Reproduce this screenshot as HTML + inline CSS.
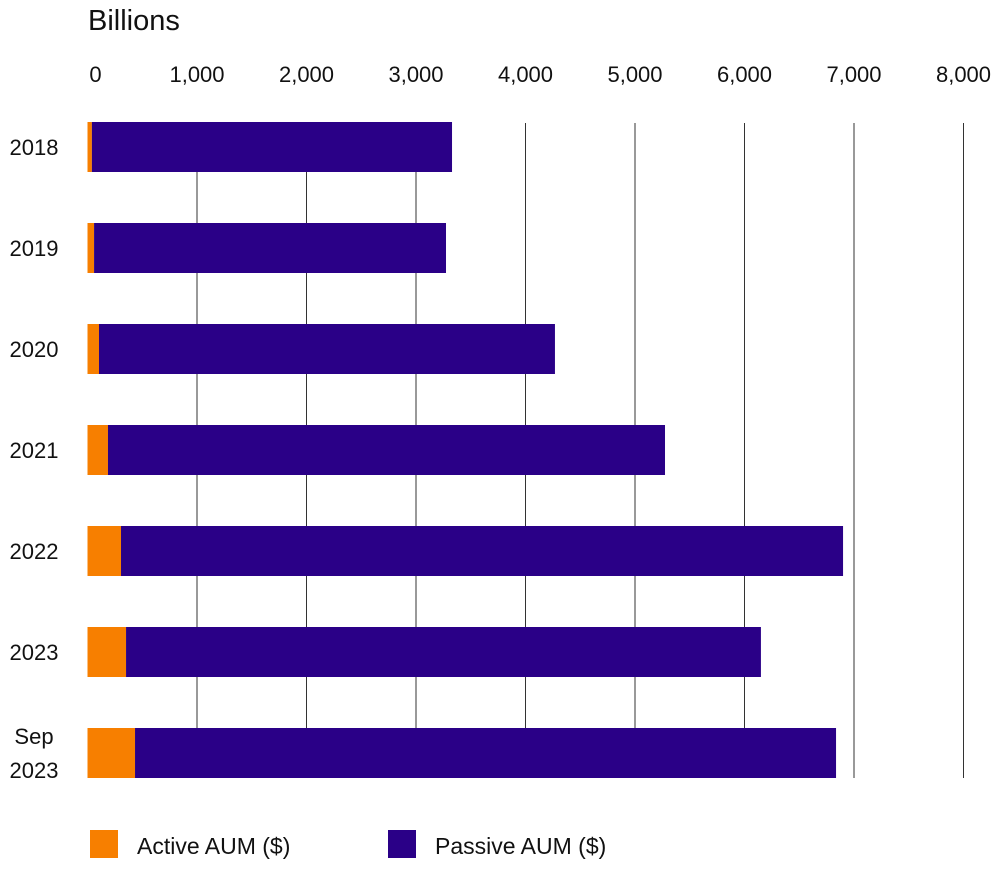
<!DOCTYPE html>
<html><head><meta charset="utf-8"><style>
body{margin:0;background:#fff;font-family:"Liberation Sans",sans-serif;}
svg text{font-family:"Liberation Sans",sans-serif;fill:#111;}
</style></head><body>
<svg id="chart" width="998" height="864" viewBox="0 0 998 864" xmlns="http://www.w3.org/2000/svg">
<text x="88" y="30" font-size="29">Billions</text>
<g id="grid"></g><g id="bars"></g><g id="labels"></g>
<g>
<rect x="90" y="830" width="28" height="28" fill="#f77f00"/>
<text x="137" y="854" font-size="23">Active AUM ($)</text>
<rect x="388" y="830" width="28" height="28" fill="#2a0087"/>
<text x="435" y="854" font-size="23">Passive AUM ($)</text>
</g>
</svg>
<script>
const categories=[["2018"],["2019"],["2020"],["2021"],["2022"],["2023"],["Sep","2023"]];
const activeValues=[40,60,105,187,306,352,434];
const passiveValues=[3289,3214,4164,5087,6594,5798,6402];
const tickValues=[0,1000,2000,3000,4000,5000,6000,7000,8000];
const tickLabels=["0","1,000","2,000","3,000","4,000","5,000","6,000","7,000","8,000"];
const NS="http://www.w3.org/2000/svg";
const x=v=>87.5+v*0.1095;
const yC=i=>147+i*101;
const bh=50;
const grid=document.getElementById('grid'),bars=document.getElementById('bars'),labels=document.getElementById('labels');
function mk(tag,attrs,parent){const e=document.createElementNS(NS,tag);for(const k in attrs)e.setAttribute(k,attrs[k]);parent.appendChild(e);return e;}
tickValues.forEach((v,i)=>{
  if(v>0){const l=mk('line',{x1:x(v),x2:x(v),y1:123,y2:778,stroke:'#333','stroke-width':1},grid);
  
  }
  const t=mk('text',{x:x(v)+(v===0?8:0),y:82,'font-size':22,'text-anchor':'middle'},labels);
  t.textContent=tickLabels[i];
  
  
});
categories.forEach((c,i)=>{
  const y=yC(i)-bh/2;
  const a=mk('rect',{x:x(0),y:y,width:x(activeValues[i])-x(0),height:bh,fill:'#f77f00'},bars);
  
  
  const p=mk('rect',{x:x(activeValues[i]),y:y,width:x(activeValues[i]+passiveValues[i])-x(activeValues[i]),height:bh,fill:'#2a0087'},bars);
  
  
  const t=mk('text',{x:34,'font-size':22,'text-anchor':'middle'},labels);
  
  
  const n=c.length;
  c.forEach((s,j)=>{const ts=mk('tspan',{x:34,y:yC(i)+8+(j-(n-1)/2)*34},t);ts.textContent=s;});
});
</script>
</body></html>
